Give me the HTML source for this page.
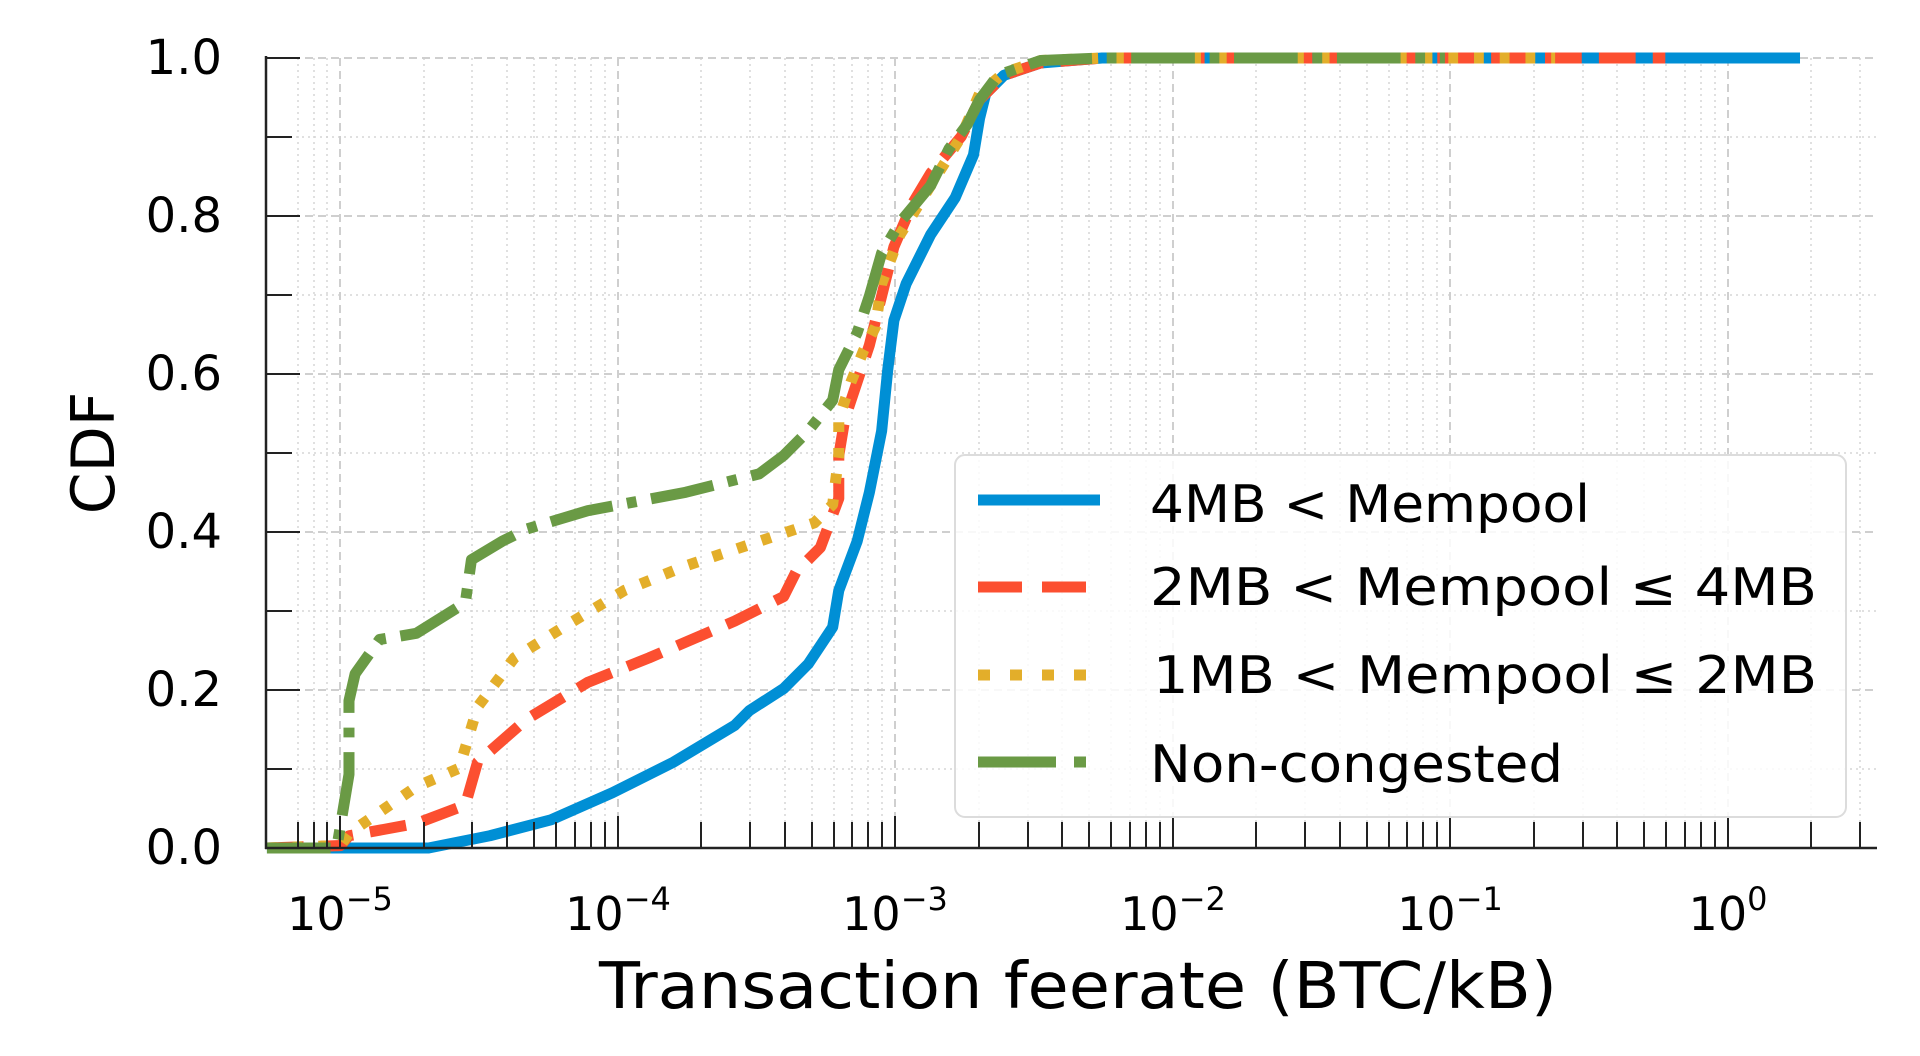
<!DOCTYPE html>
<html><head><meta charset="utf-8"><style>
html,body{margin:0;padding:0;background:#fff;}
svg{display:block;}
text{font-family:"DejaVu Sans","Liberation Sans",sans-serif;fill:#000;}
</style></head><body>
<svg width="1920" height="1056" viewBox="0 0 1920 1056" xmlns="http://www.w3.org/2000/svg">
<g stroke="#d6d6d6" stroke-width="1.5" stroke-dasharray="2,4">
<line x1="266" x2="1877" y1="769" y2="769"/><line x1="266" x2="1877" y1="611" y2="611"/><line x1="266" x2="1877" y1="453" y2="453"/><line x1="266" x2="1877" y1="295" y2="295"/><line x1="266" x2="1877" y1="137" y2="137"/>
<line x1="298" x2="298" y1="58" y2="848"/><line x1="314" x2="314" y1="58" y2="848"/><line x1="327" x2="327" y1="58" y2="848"/>
<line x1="424" x2="424" y1="58" y2="848"/><line x1="472" x2="472" y1="58" y2="848"/><line x1="507" x2="507" y1="58" y2="848"/><line x1="534" x2="534" y1="58" y2="848"/><line x1="556" x2="556" y1="58" y2="848"/><line x1="575" x2="575" y1="58" y2="848"/><line x1="591" x2="591" y1="58" y2="848"/><line x1="605" x2="605" y1="58" y2="848"/>
<line x1="701" x2="701" y1="58" y2="848"/><line x1="750" x2="750" y1="58" y2="848"/><line x1="785" x2="785" y1="58" y2="848"/><line x1="812" x2="812" y1="58" y2="848"/><line x1="834" x2="834" y1="58" y2="848"/><line x1="852" x2="852" y1="58" y2="848"/><line x1="868" x2="868" y1="58" y2="848"/><line x1="882" x2="882" y1="58" y2="848"/>
<line x1="979" x2="979" y1="58" y2="848"/><line x1="1028" x2="1028" y1="58" y2="848"/><line x1="1062" x2="1062" y1="58" y2="848"/><line x1="1089" x2="1089" y1="58" y2="848"/><line x1="1111" x2="1111" y1="58" y2="848"/><line x1="1130" x2="1130" y1="58" y2="848"/><line x1="1146" x2="1146" y1="58" y2="848"/><line x1="1160" x2="1160" y1="58" y2="848"/>
<line x1="1256" x2="1256" y1="58" y2="848"/><line x1="1305" x2="1305" y1="58" y2="848"/><line x1="1340" x2="1340" y1="58" y2="848"/><line x1="1367" x2="1367" y1="58" y2="848"/><line x1="1389" x2="1389" y1="58" y2="848"/><line x1="1407" x2="1407" y1="58" y2="848"/><line x1="1423" x2="1423" y1="58" y2="848"/><line x1="1437" x2="1437" y1="58" y2="848"/>
<line x1="1534" x2="1534" y1="58" y2="848"/><line x1="1583" x2="1583" y1="58" y2="848"/><line x1="1617" x2="1617" y1="58" y2="848"/><line x1="1644" x2="1644" y1="58" y2="848"/><line x1="1666" x2="1666" y1="58" y2="848"/><line x1="1685" x2="1685" y1="58" y2="848"/><line x1="1701" x2="1701" y1="58" y2="848"/><line x1="1715" x2="1715" y1="58" y2="848"/>
<line x1="1811" x2="1811" y1="58" y2="848"/><line x1="1860" x2="1860" y1="58" y2="848"/>
</g>
<g stroke="#cfcfcf" stroke-width="2" stroke-dasharray="8,5">
<line x1="266" x2="1877" y1="58" y2="58"/><line x1="266" x2="1877" y1="216" y2="216"/><line x1="266" x2="1877" y1="374" y2="374"/><line x1="266" x2="1877" y1="532" y2="532"/><line x1="266" x2="1877" y1="690" y2="690"/>
<line x1="340" x2="340" y1="58" y2="848"/><line x1="618" x2="618" y1="58" y2="848"/><line x1="895" x2="895" y1="58" y2="848"/><line x1="1173" x2="1173" y1="58" y2="848"/><line x1="1450" x2="1450" y1="58" y2="848"/><line x1="1728" x2="1728" y1="58" y2="848"/>
</g>
<g transform="matrix(1.2245,0,0,1.2267,0,1.6)" fill="none" stroke-width="9" stroke-linejoin="round">
<polyline stroke="#008fd5" points="218,690 350,690 400,680 450,667 500,645 550,620 600,590 612,578 640,560 660,540 680,510 685,480 700,440 710,400 720,350 725,300 730,260 740,230 760,190 780,160 795,125 800,95 805,75 820,60 850,50 900,46 1470,46"/>
<polyline stroke="#fc4f30" stroke-dasharray="30,14" points="218,690 278,688 285,680 340,670 380,655 390,620 430,585 480,555 530,535 600,505 640,485 650,465 670,445 685,405 685,370 690,340 700,310 710,280 720,240 730,200 745,165 760,140 785,110 800,80 820,60 850,50 900,46 1360,46"/>
<polyline stroke="#e3ae2a" stroke-dasharray="8,13" points="218,690 278,688 285,678 340,640 375,625 390,575 420,535 460,510 510,480 560,460 620,440 665,425 680,410 685,370 685,340 695,310 705,285 715,265 720,230 735,190 760,150 785,110 800,75 820,58 850,48 900,46 1270,46"/>
<polyline stroke="#6a9a45" stroke-dasharray="52,12,8,12" points="218,690 275,690 280,660 285,630 285,570 290,548 310,520 340,515 380,490 385,455 410,440 430,430 480,415 560,400 620,385 640,370 660,350 680,325 685,300 700,270 710,240 720,205 735,180 760,150 775,120 790,100 800,80 815,60 850,48 900,46 1180,46"/>
</g>
<g stroke="#222" stroke-width="2.5">
<line x1="266" y1="56" x2="266" y2="849"/><line x1="265" y1="848" x2="1877" y2="848"/>
</g>
<g stroke="#222" stroke-width="2">
<line x1="266" x2="300" y1="58" y2="58"/><line x1="266" x2="292" y1="137" y2="137"/><line x1="266" x2="300" y1="216" y2="216"/><line x1="266" x2="292" y1="295" y2="295"/><line x1="266" x2="300" y1="374" y2="374"/><line x1="266" x2="292" y1="453" y2="453"/><line x1="266" x2="300" y1="532" y2="532"/><line x1="266" x2="292" y1="611" y2="611"/><line x1="266" x2="300" y1="690" y2="690"/><line x1="266" x2="292" y1="769" y2="769"/>
<line x1="340" x2="340" y1="848" y2="816"/><line x1="618" x2="618" y1="848" y2="816"/><line x1="895" x2="895" y1="848" y2="816"/><line x1="1173" x2="1173" y1="848" y2="816"/><line x1="1450" x2="1450" y1="848" y2="816"/><line x1="1728" x2="1728" y1="848" y2="816"/>
<line x1="298" x2="298" y1="848" y2="822"/><line x1="314" x2="314" y1="848" y2="822"/><line x1="327" x2="327" y1="848" y2="822"/>
<line x1="424" x2="424" y1="848" y2="822"/><line x1="472" x2="472" y1="848" y2="822"/><line x1="507" x2="507" y1="848" y2="822"/><line x1="534" x2="534" y1="848" y2="822"/><line x1="556" x2="556" y1="848" y2="822"/><line x1="575" x2="575" y1="848" y2="822"/><line x1="591" x2="591" y1="848" y2="822"/><line x1="605" x2="605" y1="848" y2="822"/>
<line x1="701" x2="701" y1="848" y2="822"/><line x1="750" x2="750" y1="848" y2="822"/><line x1="785" x2="785" y1="848" y2="822"/><line x1="812" x2="812" y1="848" y2="822"/><line x1="834" x2="834" y1="848" y2="822"/><line x1="852" x2="852" y1="848" y2="822"/><line x1="868" x2="868" y1="848" y2="822"/><line x1="882" x2="882" y1="848" y2="822"/>
<line x1="979" x2="979" y1="848" y2="822"/><line x1="1028" x2="1028" y1="848" y2="822"/><line x1="1062" x2="1062" y1="848" y2="822"/><line x1="1089" x2="1089" y1="848" y2="822"/><line x1="1111" x2="1111" y1="848" y2="822"/><line x1="1130" x2="1130" y1="848" y2="822"/><line x1="1146" x2="1146" y1="848" y2="822"/><line x1="1160" x2="1160" y1="848" y2="822"/>
<line x1="1256" x2="1256" y1="848" y2="822"/><line x1="1305" x2="1305" y1="848" y2="822"/><line x1="1340" x2="1340" y1="848" y2="822"/><line x1="1367" x2="1367" y1="848" y2="822"/><line x1="1389" x2="1389" y1="848" y2="822"/><line x1="1407" x2="1407" y1="848" y2="822"/><line x1="1423" x2="1423" y1="848" y2="822"/><line x1="1437" x2="1437" y1="848" y2="822"/>
<line x1="1534" x2="1534" y1="848" y2="822"/><line x1="1583" x2="1583" y1="848" y2="822"/><line x1="1617" x2="1617" y1="848" y2="822"/><line x1="1644" x2="1644" y1="848" y2="822"/><line x1="1666" x2="1666" y1="848" y2="822"/><line x1="1685" x2="1685" y1="848" y2="822"/><line x1="1701" x2="1701" y1="848" y2="822"/><line x1="1715" x2="1715" y1="848" y2="822"/>
<line x1="1811" x2="1811" y1="848" y2="822"/><line x1="1860" x2="1860" y1="848" y2="822"/>
</g>
<g font-size="48" text-anchor="end">
<text x="222" y="74">1.0</text><text x="222" y="232">0.8</text><text x="222" y="390">0.6</text><text x="222" y="548">0.4</text><text x="222" y="706">0.2</text><text x="222" y="864">0.0</text>
</g>
<g font-size="46" text-anchor="middle">
<text x="340" y="930">10<tspan dy="-20" font-size="32">−5</tspan></text>
<text x="618" y="930">10<tspan dy="-20" font-size="32">−4</tspan></text>
<text x="895" y="930">10<tspan dy="-20" font-size="32">−3</tspan></text>
<text x="1173" y="930">10<tspan dy="-20" font-size="32">−2</tspan></text>
<text x="1450" y="930">10<tspan dy="-20" font-size="32">−1</tspan></text>
<text x="1728" y="930">10<tspan dy="-20" font-size="32">0</tspan></text>
</g>
<text x="1078" y="1008" font-size="64" text-anchor="middle" textLength="958" lengthAdjust="spacingAndGlyphs">Transaction feerate (BTC/kB)</text>
<text transform="translate(114,453) rotate(-90)" font-size="60" text-anchor="middle">CDF</text>
<rect x="955" y="455" width="891" height="362" rx="10" fill="#fff" fill-opacity="0.85" stroke="#dcdcdc" stroke-width="2"/>
<g stroke-width="11">
<line x1="978" x2="1100" y1="500" y2="500" stroke="#008fd5"/>
<line x1="978" x2="1100" y1="587" y2="587" stroke="#fc4f30" stroke-dasharray="44,20"/>
<line x1="978" x2="1100" y1="675" y2="675" stroke="#e3ae2a" stroke-dasharray="12,20"/>
<line x1="978" x2="1100" y1="762" y2="762" stroke="#6a9a45" stroke-dasharray="78,18,12,18"/>
</g>
<g font-size="52">
<text x="1150" y="522" textLength="440" lengthAdjust="spacingAndGlyphs">4MB &lt; Mempool</text>
<text x="1150" y="605" textLength="667" lengthAdjust="spacingAndGlyphs">2MB &lt; Mempool  ≤  4MB</text>
<text x="1153" y="693" textLength="664" lengthAdjust="spacingAndGlyphs">1MB &lt; Mempool  ≤  2MB</text>
<text x="1150" y="782" textLength="413" lengthAdjust="spacingAndGlyphs">Non-congested</text>
</g>
</svg>
</body></html>
